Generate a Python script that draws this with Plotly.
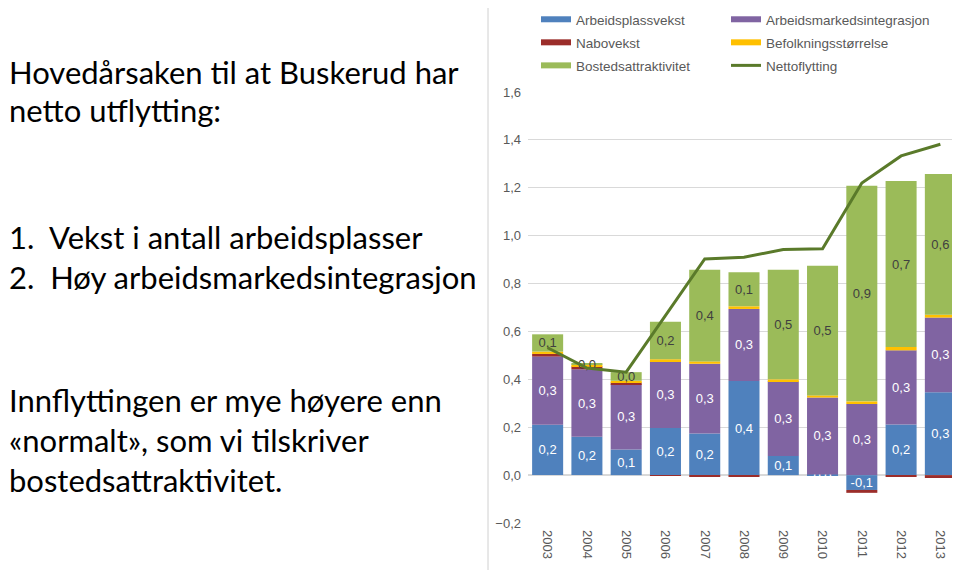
import plotly.graph_objects as go

# Data
years = ['2003', '2004', '2005', '2006', '2007', '2008', '2009', '2010', '2011', '2012', '2013']
arbeidsplassvekst = [0.210, 0.160, 0.107, 0.197, 0.174, 0.393, 0.080, 0.003, -0.062, 0.211, 0.346]
arbeidsmarkedsintegrasjon = [0.285, 0.282, 0.272, 0.279, 0.291, 0.301, 0.312, 0.321, 0.297, 0.310, 0.312]
nabovekst = [0.011, 0.012, 0.008, -0.002, -0.005, -0.004, 0.0, 0.0, -0.012, -0.006, -0.012]
befolkningsstorrelse = [0.010, 0.008, 0.007, 0.008, 0.010, 0.011, 0.008, 0.009, 0.011, 0.014, 0.012]
bostedsattraktivitet = [0.072, 0.005, 0.036, 0.157, 0.383, 0.142, 0.458, 0.541, 0.900, 0.693, 0.588]
nettoflytting = [0.532, 0.447, 0.430, 0.665, 0.903, 0.910, 0.942, 0.945, 1.220, 1.333, 1.382]

# name, values, colour, label colour, show labels, legend column
series = [
    ('Arbeidsplassvekst', arbeidsplassvekst, '#4f81bd', 'white', True, 'legend'),
    ('Arbeidsmarkedsintegrasjon', arbeidsmarkedsintegrasjon, '#8064a2', 'white', True, 'legend2'),
    ('Nabovekst', nabovekst, '#9b2d2a', 'white', False, 'legend'),
    ('Befolkningsstørrelse', befolkningsstorrelse, '#ffc000', 'white', False, 'legend2'),
    ('Bostedsattraktivitet', bostedsattraktivitet, '#9bbb59', '#404040', True, 'legend'),
]
line_color = '#5a7a2a'
arial = 'Liberation Sans, Arial, sans-serif'
axis_font = dict(family=arial, size=13, color='#595959')

# page body has an 8px margin, so lay out in page pixels and convert
OFF = 8
W, H = 960 - OFF, 570 - OFF
top, bottom = 92, 523  # plot area in page pixels


def px_x(px):
    return (px - OFF) / W


def px_y(py):
    return (bottom - py) / (bottom - top)


fig = go.Figure()

# stacked bars
for name, vals, color, txtcolor, labels, leg in series:
    fig.add_trace(go.Bar(
        x=years, y=vals, name=name,
        marker=dict(color=color, line=dict(width=0)),
        texttemplate='%{y:.1f}' if labels else None,
        textposition='inside' if labels else 'none',
        insidetextanchor='middle',
        textangle=0,
        textfont=dict(family=arial, size=13, color=txtcolor),
        showlegend=False,
    ))

# legend entries drawn as short thick lines
for name, vals, color, txtcolor, labels, leg in series:
    fig.add_trace(go.Scatter(
        x=[None], y=[None], mode='lines', name=name,
        line=dict(color=color, width=6), legend=leg, legendgroup=name,
    ))

fig.add_trace(go.Scatter(
    x=years, y=nettoflytting, mode='lines', name='Nettoflytting',
    line=dict(color=line_color, width=3), legend='legend2', legendgroup='Nettoflytting',
))

# left-hand text
text_lines = [
    ('Hovedårsaken til at Buskerud har', 72),
    ('netto utflytting:', 110),
    ('1.\u00a0\u00a0Vekst i antall arbeidsplasser', 237),
    ('2.\u00a0\u00a0Høy arbeidsmarkedsintegrasjon', 277),
    ('Innflyttingen er mye høyere enn', 400),
    ('«normalt», som vi tilskriver', 440),
    ('bostedsattraktivitet.', 480),
]
for txt, ypx in text_lines:
    fig.add_annotation(
        text=txt, xref='paper', yref='paper',
        x=0, y=px_y(ypx), borderpad=0,
        xanchor='left', yanchor='middle', showarrow=False, align='left',
        font=dict(family='Lato, sans-serif', size=31, color='black'),
    )

# left frame edge of the chart
fig.add_shape(type='line', xref='paper', yref='paper',
              x0=px_x(488), x1=px_x(488), y0=-0.12, y1=1.25,
              line=dict(color='#d0d0d0', width=1))

legend_style = dict(
    orientation='v', xanchor='left', yanchor='top', y=px_y(4),
    traceorder='grouped', tracegroupgap=2.5,
    font=dict(family=arial, size=13.5, color='#595959'),
    bgcolor='rgba(0,0,0,0)',
)

fig.update_layout(
    width=W, height=H,
    margin=dict(l=0, r=0, t=top - OFF, b=H - (bottom - OFF), autoexpand=False),
    barmode='relative', bargap=0.21,
    separators=', ',
    plot_bgcolor='white', paper_bgcolor='white',
    uniformtext=dict(minsize=13, mode='show'),
    legend=dict(x=px_x(536), **legend_style),
    legend2=dict(x=px_x(726), **legend_style),
    xaxis=dict(domain=[px_x(528), 1.0], type='category', tickangle=90,
               tickfont=axis_font, showgrid=False, ticks='', ticklabelstandoff=6),
    yaxis=dict(range=[-0.2, 1.6], dtick=0.2, tickformat='.1f', tickfont=axis_font,
               gridcolor='#d9d9d9', zerolinecolor='#d9d9d9', ticks='', ticklabelstandoff=6),
)

fig.write_html('out.html')
